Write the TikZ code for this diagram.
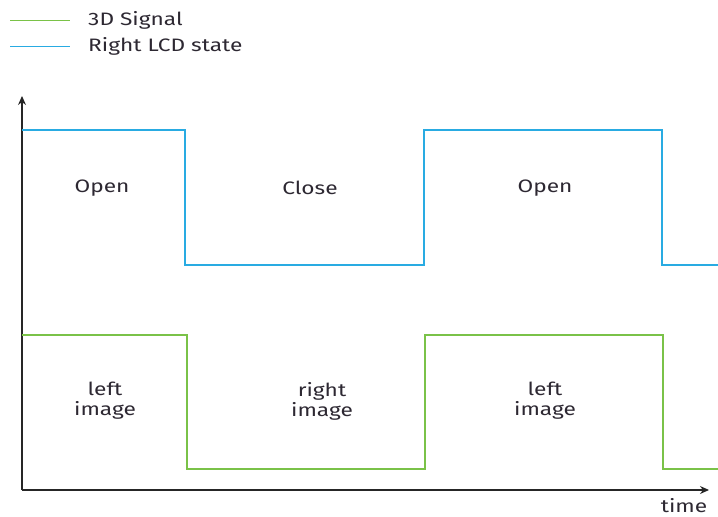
\documentclass[tikz,border=0pt]{standalone}
\usepackage{fontspec}
\setmainfont{Fira Sans}
\usetikzlibrary{arrows.meta}
\definecolor{sigGreen}{RGB}{122,194,72}
\definecolor{lcdBlue}{RGB}{41,171,226}
\definecolor{labelInk}{RGB}{45,40,50}
\newcommand\widetext[1]{\scalebox{1.26}[1]{#1}}
\begin{document}
\begin{tikzpicture}[x=1pt,y=-1pt,
  wave/.style={line width=1.5pt},
  axisline/.style={line width=1.2pt,black!85,-{Stealth[length=9pt,width=8pt]}},
  lbl/.style={font=\fontsize{18}{20}\selectfont,text=labelInk,align=center,inner sep=0pt},
  legendtext/.style={font=\fontsize{18}{20}\selectfont,text=labelInk,anchor=west,inner sep=0pt}]
\useasboundingbox (0,0) rectangle (718,517);
% legend
\draw[wave,sigGreen,line width=1pt] (10,20) coordinate (lg1) -- (70,20) coordinate (lg2);
\node[legendtext] (legSig) at (88,20) {\widetext{3D Signal}};
\draw[wave,lcdBlue,line width=1pt] (10,46) coordinate (lb1) -- (70,46) coordinate (lb2);
\node[legendtext] (legLcd) at (88,46) {\widetext{Right LCD state}};
% axes
\coordinate (origin) at (22,490);
\coordinate (ytop) at (22,96);
\coordinate (xend) at (709,490);
\draw[axisline] (origin) -- (ytop);
\draw[axisline] (origin) -- (xend);
\node[lbl] (timeLbl) at (684,506) {\widetext{time}};
% right LCD state
\draw[wave,lcdBlue] (22,130) -- (185,130) -- (185,265) -- (424,265) -- (424,130)
  -- (662,130) -- (662,265) -- (718,265);
% 3D signal
\draw[wave,sigGreen] (22,335) -- (187,335) -- (187,469) -- (425,469) -- (425,335)
  -- (663,335) -- (663,469) -- (718,469);
% phase labels
\node[lbl] (open1) at (102,188) {\widetext{Open}};
\node[lbl] (close1) at (310,188) {\widetext{Close}};
\node[lbl] (open2) at (545,188) {\widetext{Open}};
\node[lbl] (left1) at (105,401) {\widetext{left}\\\widetext{image}};
\node[lbl] (right1) at (322,401) {\widetext{right}\\\widetext{image}};
\node[lbl] (left2) at (545,401) {\widetext{left}\\\widetext{image}};
\end{tikzpicture}
\end{document}
